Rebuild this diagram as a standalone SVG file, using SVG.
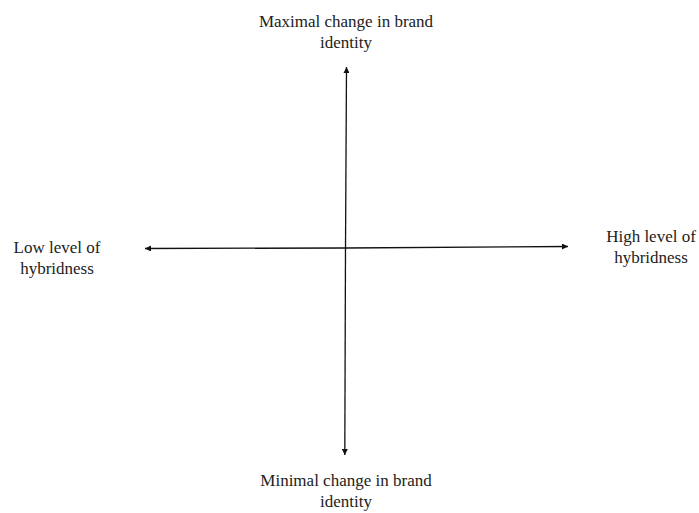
<svg xmlns="http://www.w3.org/2000/svg" width="699" height="513" viewBox="0 0 699 513">
<style>
.lbl{font-family:"Liberation Serif","Times New Roman",serif;font-size:17px;fill:#222;text-anchor:middle}
.ax{stroke:#111;stroke-width:1.3;fill:none}
</style>
<defs>
<marker id="ah" viewBox="0 0 10 10" refX="10" refY="5" markerWidth="8" markerHeight="6" markerUnits="userSpaceOnUse" orient="auto">
<path d="M0,0 L10,5 L0,10 Z" fill="#111"/>
</marker>
</defs>
<rect width="699" height="513" fill="#fff"/>
<g id="connectors">
<line class="ax" x1="345.5" y1="248" x2="346.5" y2="67" marker-end="url(#ah)"/>
<line class="ax" x1="345.5" y1="248" x2="344.8" y2="455" marker-end="url(#ah)"/>
<line class="ax" x1="346" y1="248" x2="145" y2="248.5" marker-end="url(#ah)"/>
<line class="ax" x1="346" y1="248" x2="568" y2="246.5" marker-end="url(#ah)"/>
</g>
<g id="top">
<text class="lbl" x="346" y="27">Maximal change in brand</text>
<text class="lbl" x="346" y="48">identity</text>
</g>
<g id="bottom">
<text class="lbl" x="346" y="486">Minimal change in brand</text>
<text class="lbl" x="346" y="507">identity</text>
</g>
<g id="left">
<text class="lbl" x="57" y="253">Low level of</text>
<text class="lbl" x="57" y="274">hybridness</text>
</g>
<g id="right">
<text class="lbl" x="651" y="242">High level of</text>
<text class="lbl" x="651" y="263">hybridness</text>
</g>
</svg>
